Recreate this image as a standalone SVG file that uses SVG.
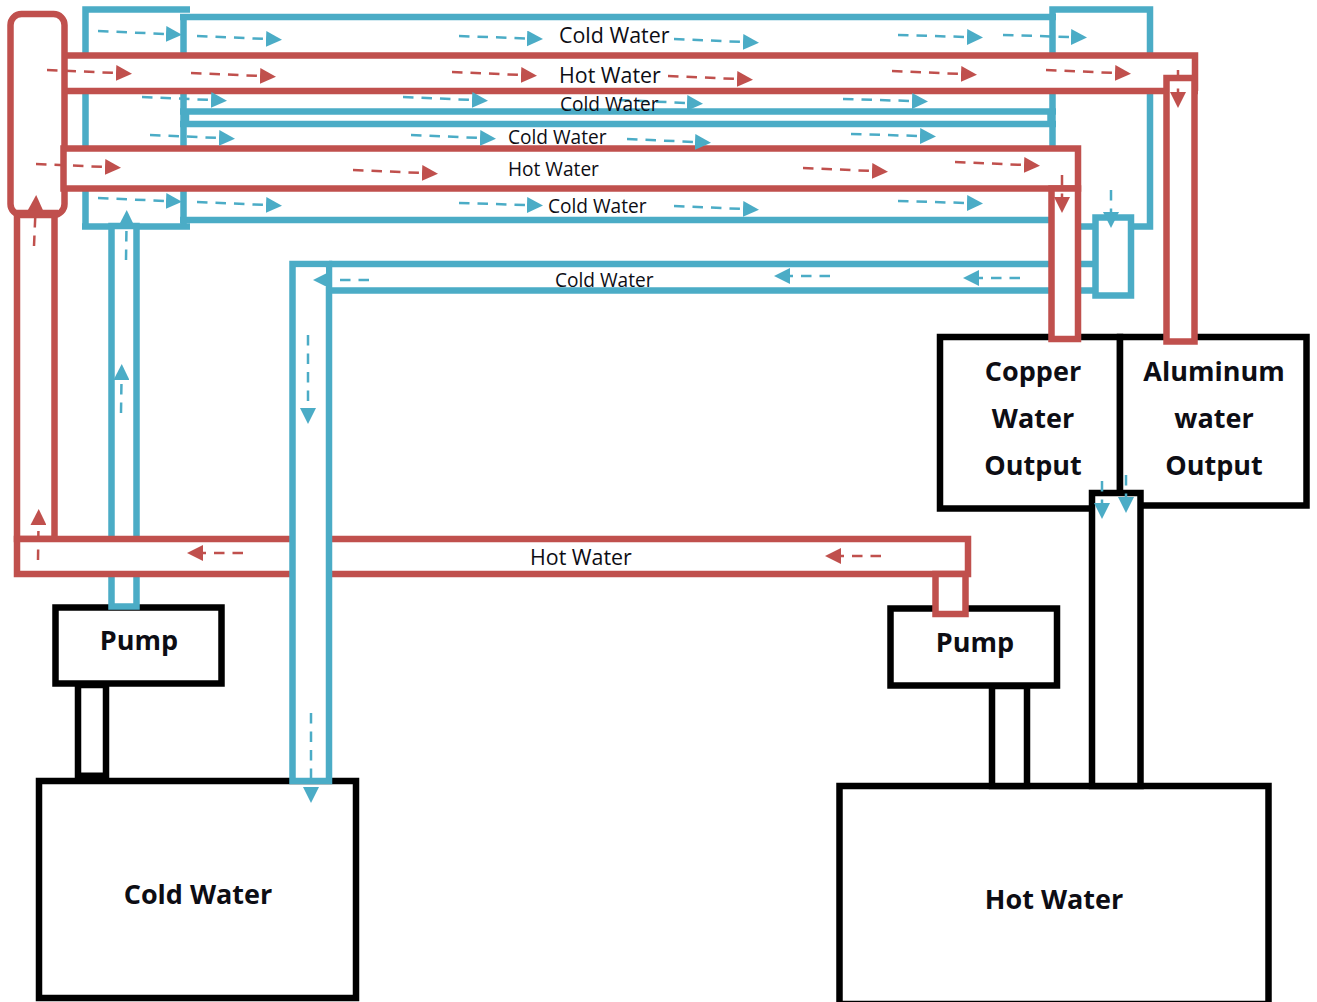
<svg xmlns="http://www.w3.org/2000/svg" width="1317" height="1002" viewBox="0 0 1317 1002">
<style>
.k{fill:#fff;stroke:#000;stroke-width:6.5}
.b{fill:none;stroke:#4bacc6;stroke-width:6.5}
.r{fill:none;stroke:#c0504d;stroke-width:6.5}
.rw{fill:#fff;stroke:#c0504d;stroke-width:6.5}
.bw{fill:#fff;stroke:#4bacc6;stroke-width:6.5}
.ab{fill:none;stroke:#4bacc6;stroke-width:2.5;stroke-dasharray:10.5 8;marker-end:url(#mb)}
.ar{fill:none;stroke:#c0504d;stroke-width:2.5;stroke-dasharray:10.5 8;marker-end:url(#mr)}
text{font-family:"Open Sans","Liberation Sans",sans-serif;fill:#0d0d14}
.s{font-size:21.4px}
.m{font-size:19.1px}
.t{font-size:27px;font-weight:700;text-anchor:middle}
</style>
<defs>
<marker id="mb" markerUnits="userSpaceOnUse" markerWidth="16" markerHeight="16" refX="0" refY="8" orient="auto"><path d="M0 0L16 8L0 16Z" fill="#4bacc6"/></marker>
<marker id="mr" markerUnits="userSpaceOnUse" markerWidth="16" markerHeight="16" refX="0" refY="8" orient="auto"><path d="M0 0L16 8L0 16Z" fill="#c0504d"/></marker>
</defs>
<g id="cold-tank"><rect class="k" x="39" y="781" width="317" height="217"/><text class="t" x="198" y="904">Cold Water</text></g>
<g id="hot-tank"><rect class="k" x="839.500" y="786" width="429" height="218"/><text class="t" x="1054" y="909">Hot Water</text></g>
<g id="cold-pump"><rect class="k" x="78" y="685" width="28" height="92"/><path d="M78 775H106" stroke="#000" stroke-width="5"/><rect class="k" x="55.500" y="607.500" width="166" height="76"/><text class="t" x="139" y="650">Pump</text></g>
<g id="hot-pump"><rect class="k" x="992" y="686" width="35" height="100"/><rect class="k" x="890.500" y="608.500" width="166.500" height="77"/><text class="t" x="975" y="652">Pump</text></g>
<g id="copper-output"><rect class="k" x="940" y="337" width="180" height="171.500"/><text class="t" x="1033" y="381">Copper</text><text class="t" x="1033" y="428">Water</text><text class="t" x="1033" y="475">Output</text></g>
<g id="aluminum-output"><rect class="k" x="1120" y="337" width="186.500" height="168.500"/><text class="t" x="1214" y="381">Aluminum</text><text class="t" x="1214" y="428">water</text><text class="t" x="1214" y="475">Output</text></g>
<g id="hot-riser"><rect class="k" x="1092" y="493" width="48.500" height="293"/></g>
<g id="connectors">
<path class="b" d="M85.500 229V9.500H190M183.500 14V226.500M82 226.500H190"/>
<path class="b" d="M180 17H1056M180 111.500H1056M180 124H1056M180 220H1056M186 112V124M1050.500 112V124"/>
<path class="b" d="M1052.500 220V9.500H1150V226.500H1134M1081 226.500H1096"/>
<path class="b" d="M329 264H1096M329 290.500H1096"/>
<rect class="bw" x="1095.500" y="217.500" width="35.500" height="78"/>
<path class="bw" d="M111.500 606.500V226H136.500V606.500Z"/>
<rect class="rw" x="17" y="213" width="37.500" height="326"/>
<rect class="rw" x="10.500" y="14" width="54" height="201" rx="11"/>
<path class="r" d="M14 213H58"/>
<rect class="rw" x="17" y="539" width="951" height="35"/>
<rect class="rw" x="935.500" y="574" width="30" height="40"/>
<path class="bw" d="M292.500 781V264H329V781Z"/>
<path d="M296 267.500H326V287H296Z" fill="#fff"/>
<path d="M68 55.500H1195V91H68Z" fill="#fff"/>
<path class="r" d="M65 55.500H1195V91M65 91H1198"/>
<rect class="rw" x="63.500" y="148.500" width="1014.500" height="40"/>
<rect class="rw" x="1051.500" y="188.500" width="26.500" height="150.500"/>
<rect class="rw" x="1166.500" y="78" width="28" height="263.500"/>
<path class="ab" d="M98 31L166 34"/><path class="ab" d="M197 36L266 39"/><path class="ab" d="M459 36L527 38.500"/><path class="ab" d="M674 39L743 42"/><path class="ab" d="M898 35L967 37"/><path class="ab" d="M1003 35L1071 37"/>
<path class="ar" d="M47 70L116 73"/><path class="ar" d="M191 73L260 76"/><path class="ar" d="M452 72L521 75"/><path class="ar" d="M668 76L737 79"/><path class="ar" d="M892 71L961 74"/><path class="ar" d="M1046 70L1115 73"/>
<path class="ab" d="M142 97L211 100"/><path class="ab" d="M403 97L472 100"/><path class="ab" d="M619 100L687 103"/><path class="ab" d="M843 99L912 101"/>
<path class="ab" d="M150 135L219 138"/><path class="ab" d="M411 135L480 138"/><path class="ab" d="M627 139L695 142"/><path class="ab" d="M851 134L920 136"/>
<path class="ar" d="M36 164L105 167"/><path class="ar" d="M353 170L422 173"/><path class="ar" d="M803 168L872 171"/><path class="ar" d="M955 162L1024 165"/>
<path class="ab" d="M98 198L166 201"/><path class="ab" d="M197 202L266 205"/><path class="ab" d="M459 203L527 205"/><path class="ab" d="M674 206L743 209"/><path class="ab" d="M898 201L967 203"/>
<path class="ab" d="M369 280H329"/><path class="ab" d="M830 276H790"/><path class="ab" d="M1020 278H979"/>
<path class="ar" d="M243 553H203"/><path class="ar" d="M881 556H841"/>
<path class="ar" d="M34 246L35.500 211"/><path class="ar" d="M38 560L38.500 525"/>
<path class="ab" d="M126 260L126.500 226"/><path class="ab" d="M121 413L121.500 380"/>
<path class="ab" d="M308 335V408"/><path class="ab" d="M311 713V787"/>
<path class="ar" d="M1062 175V197"/><path class="ar" d="M1178 70V92"/>
<path class="ab" d="M1111 190V212"/><path class="ab" d="M1102 481V503"/><path class="ab" d="M1126 475V497"/>
</g>
<g id="labels">
<text class="s" x="559" y="43">Cold Water</text>
<text class="s" x="559" y="83">Hot Water</text>
<text class="m" x="560" y="111">Cold Water</text>
<text class="m" x="508" y="144">Cold Water</text>
<text class="m" x="508" y="176">Hot Water</text>
<text class="m" x="548" y="213">Cold Water</text>
<text class="m" x="555" y="287">Cold Water</text>
<text class="s" x="530" y="565">Hot Water</text>
</g>
</svg>
